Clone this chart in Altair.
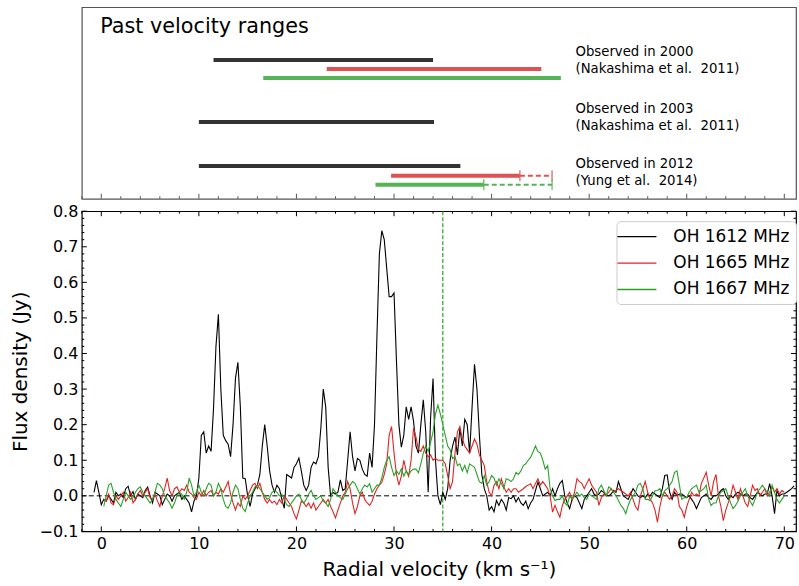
import altair as alt
import numpy as np
import pandas as pd

FONT = "DejaVu Sans"

# ---------------------------------------------------------------- data
series_names = ["OH 1612 MHz", "OH 1665 MHz", "OH 1667 MHz"]

STEP = 0.25          # channel spacing (km/s)
black_start = -0.75
red_start = 0.25
green_start = 0.25

black_flux = [
    0.01, 0.043, 0.01,
    -0.025, -0.01, -0.015, 0.0,   -0.01, -0.02, 0.01, 0.0,   0.005, -0.005, 0.02, 0.027,
    0.0, 0.012, -0.01, 0.005,     0.0, -0.005, 0.015, 0.025,  0.0, -0.02, 0.01, 0.005,
    0.0, -0.025, -0.01, 0.005,    0.0, -0.015, 0.0, 0.005,    0.01, -0.01, 0.0, -0.01,
    -0.02, -0.045, -0.015, 0.0,   0.05, 0.17, 0.18, 0.12,     0.14, 0.125, 0.245, 0.42,
    0.51, 0.3, 0.17, 0.155,       0.145, 0.11, 0.2, 0.33,     0.375, 0.25, 0.05, 0.048,
    0.0, -0.03, 0.005, 0.02,      0.03, 0.06, 0.14, 0.2,      0.14, 0.07, 0.03, 0.01,
    0.03, 0.02, -0.01, -0.035,    0.06, 0.055, 0.05, 0.08,    0.09, 0.106, 0.07, 0.03,
    0.015, 0.03, 0.08, 0.095,     0.09, 0.11, 0.19, 0.3,      0.25, 0.08, 0.0, 0.01,
    0.005, 0.01, 0.045, 0.015,    0.02, 0.1, 0.18, 0.11,      0.07, 0.105, 0.1, 0.075,
    0.06, 0.055, 0.12, 0.08,      0.2, 0.45, 0.68, 0.745,     0.72, 0.64, 0.56, 0.56,
    0.57, 0.38, 0.2, 0.137,       0.17, 0.25, 0.215, 0.25,    0.21, 0.14, 0.12, 0.2,
    0.27, 0.18, 0.01, 0.22,       0.33, 0.1, 0.0, -0.025,     0.01, -0.01, 0.02, 0.1,
    0.14, 0.165, 0.115, 0.19,     0.14, 0.215, 0.2, 0.12,     0.25, 0.37, 0.3, 0.17,
    0.06, 0.02, 0.0, -0.04,       -0.03, -0.045, -0.013, -0.027,  -0.01, -0.02, -0.04, -0.005,
    -0.008, 0.0, -0.017, -0.005,  -0.02, -0.027, -0.015, -0.036,  -0.02, -0.01, 0.015, 0.039,
    0.02, 0.0, 0.005, 0.01,       0.0, 0.02, 0.0, 0.02,       0.035, 0.043, 0.0, -0.02,
    -0.036, -0.01, 0.0, -0.005,   -0.02, -0.036, -0.01, 0.0,  0.01, 0.02, 0.005, 0.0,
    0.005, 0.015, 0.01, 0.0,      0.0, 0.005, 0.015, 0.01,    0.04, 0.02, 0.0, -0.005,
    -0.01, 0.005, 0.02, 0.01,     0.0, -0.005, 0.0, -0.005,   0.005, 0.0, 0.01, 0.005,
    0.0, -0.005, 0.02, 0.057,     0.059, 0.01, -0.01, 0.01,   0.0, 0.005, 0.005, 0.0,
    -0.005, 0.0, -0.01, -0.02,    -0.036, -0.02, -0.005, 0.0,  0.005, -0.005, -0.01, 0.0,
    0.0, 0.005, 0.015, 0.02,      0.0, -0.01, 0.0, -0.005,    0.005, 0.01, 0.005, 0.0,
    0.005, 0.005, -0.005, -0.01,  0.0, 0.01, 0.005, 0.0,      0.005, 0.005, 0.034, 0.0,
    -0.05, 0.015, 0.0, 0.005,     0.005, 0.01, 0.015, 0.02,
    0.028,
]

red_flux = [
    -0.01, -0.015, 0.005,
    -0.02, -0.025, 0.0, -0.01,    0.0, 0.01, -0.015, -0.005,  0.01, -0.02, -0.01, 0.005,
    0.015, 0.0, 0.01, 0.02,       -0.005, -0.01, 0.005, -0.015,  -0.03, 0.0, 0.02, 0.05,
    0.015, 0.0, 0.02, 0.025,      0.01, 0.02, 0.015, 0.03,    0.01, 0.005, -0.005, -0.01,
    0.01, 0.0, 0.015, 0.0,        0.01, 0.015, 0.0, 0.01,     0.005, 0.02, 0.01, 0.025,
    0.04, 0.005, -0.02, -0.04,    -0.02, -0.03, 0.0, -0.01,   0.0, 0.015, 0.03, 0.035,
    0.02, 0.035, 0.01, -0.01,     -0.02, -0.01, -0.02, -0.015,  -0.025, -0.01, -0.02, 0.0,
    -0.01, -0.02, -0.03, -0.05,   -0.065, -0.04, -0.015, -0.02,  -0.03, -0.02, -0.035, -0.02,
    -0.04, -0.03, -0.02, -0.01,   -0.02, -0.01, -0.03, -0.045,  -0.062, -0.04, -0.02, 0.0,
    0.01, 0.04, 0.02, -0.02,      -0.05, -0.03, 0.0, 0.01,    -0.01, -0.02, -0.027, -0.015,
    0.005, 0.02, 0.03, 0.038,     0.06, 0.09, 0.17, 0.195,    0.12, 0.06, 0.03, 0.055,
    0.1, 0.07, 0.055, 0.1,        0.19, 0.165, 0.13, 0.125,   0.14, 0.12, 0.11, 0.115,
    0.1, 0.105, 0.1, 0.1,         0.1, 0.09, 0.057, 0.02,     0.04, 0.12, 0.18, 0.195,
    0.16, 0.14, 0.13, 0.12,       0.14, 0.16, 0.145, 0.115,   0.1, 0.085, 0.04, 0.01,
    0.0, 0.03, 0.04, 0.02,        0.048, 0.025, 0.01, 0.02,   0.01, 0.02, 0.02, 0.01,
    0.015, 0.02, 0.026, 0.03,     0.034, 0.02, 0.035, 0.048,  0.03, 0.04, 0.03, 0.02,
    0.0, -0.046, -0.027, -0.045,  -0.06, -0.027, -0.01, 0.0,  0.01, -0.013, 0.01, 0.048,
    0.04, 0.035, 0.02, 0.035,     0.048, 0.03, 0.02, 0.01,    -0.027, -0.005, 0.005, 0.0,
    0.01, 0.02, 0.01, 0.015,      0.02, 0.015, 0.01, 0.005,   0.0, 0.01, -0.01, -0.03,
    -0.04, 0.0, 0.02, 0.04,       0.01, -0.01, -0.02, -0.04,  -0.074, -0.03, 0.0, 0.01,
    0.0, -0.01, 0.0, 0.02,        0.01, -0.03, -0.04, -0.06,  -0.03, -0.01, 0.01, 0.0,
    0.005, 0.0, 0.035, 0.05,      0.066, 0.03, 0.0, 0.04,     0.06, 0.0, -0.03, -0.07,
    -0.04, -0.02, 0.0, 0.03,      0.01, -0.01, 0.02, 0.0,     -0.02, -0.03, 0.0, 0.03,
    0.015, 0.02, 0.0, 0.01,       0.02, 0.0, 0.01, 0.025,     0.01, 0.02, 0.005, 0.015,
    0.01,
]

green_flux = [
    -0.03, 0.0, 0.03,
    0.035, 0.01, -0.01, -0.02,    -0.03, -0.01, 0.01, 0.0,    -0.01, -0.005, 0.01, 0.02,
    0.025, 0.01, 0.0, -0.01,      -0.02, -0.01, 0.01, 0.035,  0.03, 0.02, 0.0, -0.01,
    -0.02, -0.035, -0.02, 0.0,    0.01, 0.005, -0.01, 0.01,   0.05, 0.03, 0.0, 0.01,
    0.03, 0.01, 0.0, 0.02,        0.035, 0.03, 0.0, 0.01,     0.035, 0.02, -0.01, -0.03,
    -0.035, -0.02, 0.01, 0.03,    0.02, -0.01, -0.035, -0.044,  -0.02, 0.0, 0.01, 0.025,
    0.03, 0.02, 0.01, 0.0,        -0.01, -0.005, 0.01, 0.015,  0.01, 0.0, 0.005, -0.01,
    -0.025, -0.03, -0.02, -0.01,  0.0, 0.005, -0.01, -0.02,   -0.01, 0.005, 0.015, 0.0,
    -0.01, -0.005, 0.0, -0.015,   -0.02, -0.03, -0.01, 0.02,  0.01, 0.0, -0.005, -0.01,
    0.005, 0.02, 0.03, 0.04,      0.035, 0.02, 0.005, 0.02,   0.03, 0.025, 0.034, 0.01,
    0.02, 0.03, 0.03, 0.05,       0.08, 0.1, 0.11, 0.08,      0.057, 0.07, 0.06, 0.076,
    0.055, 0.07, 0.06, 0.07,      0.075, 0.075, 0.065, 0.09,  0.12, 0.14, 0.125, 0.15,
    0.18, 0.23, 0.255, 0.23,      0.2, 0.17, 0.14, 0.13,      0.105, 0.11, 0.085, 0.09,
    0.07, 0.085, 0.065, 0.09,     0.085, 0.08, 0.06, 0.04,    0.035, 0.057, 0.03, 0.04,
    0.057, 0.05, 0.03, 0.048,     0.035, 0.02, 0.048, 0.045,  0.04, 0.048, 0.066, 0.06,
    0.07, 0.085, 0.09, 0.1,       0.108, 0.124, 0.14, 0.124,  0.12, 0.1, 0.075, 0.085,
    0.02, 0.0, -0.013, -0.01,     -0.01, 0.0, -0.02, -0.027,  0.0, -0.01, 0.0, 0.01,
    0.0, 0.005, -0.005, -0.01,    0.005, 0.0, -0.005, -0.01,  0.02, 0.03, 0.015, 0.0,
    0.025, 0.02, 0.01, 0.0,       -0.013, -0.027, -0.035, -0.05,  -0.027, -0.01, 0.0, 0.01,
    0.03, 0.035, 0.02, -0.01,     -0.01, -0.013, 0.0, 0.014,  0.015, 0.02, 0.0, 0.015,
    0.02, 0.03, 0.04, 0.066,      0.07, 0.03, -0.01, -0.005,  -0.005, 0.01, 0.02, 0.025,
    0.03, 0.01, 0.015, 0.02,      0.03, -0.01, -0.027, -0.02,  -0.02, 0.0, 0.01, 0.015,
    0.02, 0.0, -0.02, -0.036,     -0.027, -0.015, 0.0, 0.01,  0.02, 0.0, -0.015, -0.027,
    -0.01, 0.01, 0.02, 0.03,      0.02, 0.01, 0.0, 0.03,      0.01, -0.01, -0.02, -0.01,
    0.0,
]

# past velocity ranges (km/s)
range_epoch = ["2000", "2000", "2000", "2003", "2012", "2012", "2012"]
range_series = ["OH 1612 MHz", "OH 1665 MHz", "OH 1667 MHz", "OH 1612 MHz",
                "OH 1612 MHz", "OH 1665 MHz", "OH 1667 MHz"]
range_lo = [11.5, 23.1, 16.6, 10.0, 10.0, 29.7, 28.1]
range_hi = [34.0, 45.1, 47.1, 34.1, 36.8, 42.9, 39.2]

# 2012 upper-limit extensions
limit_series = ["OH 1665 MHz", "OH 1667 MHz"]
limit_lo = [42.9, 39.2]
limit_hi = [46.2, 46.2]

epoch_notes = ["Observed in 2000", "(Nakashima et al.\u00a0 2011)",
               "Observed in 2003", "(Nakashima et al.\u00a0 2011)",
               "Observed in 2012", "(Yung et al.\u00a0 2014)"]

ref_velocity = [35.0]
x_tick_values = [0, 10, 20, 30, 40, 50, 60, 70]
y_tick_values = [-0.1, 0.0, 0.1, 0.2, 0.3, 0.4, 0.5, 0.6, 0.7, 0.8]

# ---------------------------------------------------------------- layout / style
W, H_TOP, H_BOT = 716, 192, 321
spec_colors = ["#000000", "#e02424", "#2ca02c"]
range_colors = ["#333333", "#de5252", "#56b356"]

ROW = {("2000", "OH 1612 MHz"): 13.9, ("2000", "OH 1665 MHz"): 12.9,
       ("2000", "OH 1667 MHz"): 11.9, ("2003", "OH 1612 MHz"): 7.0,
       ("2012", "OH 1612 MHz"): 2.1, ("2012", "OH 1665 MHz"): 1.0,
       ("2012", "OH 1667 MHz"): 0.0}
NOTE_ROW = [14.78, 12.89, 8.44, 6.56, 2.33, 0.44]
NOTE_X = 48.6

x_scale = alt.Scale(domain=[-2, 71.2], nice=False, zero=False)
y_scale = alt.Scale(domain=[-0.1, 0.8], nice=False, zero=False)
row_scale = alt.Scale(domain=[-1.56, 19.78], nice=False, zero=False)
spec_color = alt.Scale(domain=series_names, range=spec_colors)
rng_color = alt.Scale(domain=series_names, range=range_colors)


def spectrum(name, start, flux):
    v = start + STEP * np.arange(len(flux))
    return pd.DataFrame({"series": name, "v": v, "flux": flux})


spec = pd.concat([spectrum(series_names[0], black_start, black_flux),
                  spectrum(series_names[1], red_start, red_flux),
                  spectrum(series_names[2], green_start, green_flux)],
                 ignore_index=True)

rng = pd.DataFrame({"epoch": range_epoch, "series": range_series,
                    "lo": range_lo, "hi": range_hi})
rng["row"] = [ROW[(e, s)] for e, s in zip(range_epoch, range_series)]

lim = pd.DataFrame({"series": limit_series, "lo": limit_lo, "hi": limit_hi})
lim["row"] = [ROW[("2012", s)] for s in limit_series]
caps = pd.concat([lim[["series", "row"]].assign(v=lim["lo"]),
                  lim[["series", "row"]].assign(v=lim["hi"])], ignore_index=True)

notes = pd.DataFrame({"text": epoch_notes, "row": NOTE_ROW, "v": NOTE_X})

minor_x = [t for t in range(-2, 72, 2) if t % 10 != 0]
minor_y = [round(-0.1 + 0.02 * i, 2) for i in range(46)]
minor_y = [t for t in minor_y if abs(round(t * 10) - t * 10) > 1e-6]
xt_major = pd.DataFrame({"v": x_tick_values})
xt_minor = pd.DataFrame({"v": minor_x})
yt_major = pd.DataFrame({"f": y_tick_values})
yt_minor = pd.DataFrame({"f": minor_y})

MAJ, MIN = 5, 2.5

# ---------------------------------------------------------------- top panel
X_top = alt.X("lo:Q", scale=x_scale, axis=None)
Y_row = alt.Y("row:Q", scale=row_scale, axis=None)

bars = alt.Chart(rng).mark_rule(strokeWidth=4).encode(
    x=X_top, x2="hi:Q", y=Y_row,
    color=alt.Color("series:N", scale=rng_color, legend=None))

dashes = alt.Chart(lim).mark_rule(strokeWidth=2, strokeDash=[5, 3]).encode(
    x=X_top, x2="hi:Q", y=Y_row,
    color=alt.Color("series:N", scale=rng_color, legend=None))

cap_marks = alt.Chart(caps).mark_tick(orient="vertical", size=11, thickness=1.6).encode(
    x=alt.X("v:Q", scale=x_scale, axis=None), y=Y_row,
    color=alt.Color("series:N", scale=rng_color, legend=None))

note_marks = alt.Chart(notes).mark_text(
    align="left", baseline="middle", font=FONT, fontSize=13.3, color="black").encode(
    x=alt.X("v:Q", scale=x_scale, axis=None), y=Y_row, text="text:N")

title_mark = alt.Chart(pd.DataFrame({"t": ["Past velocity ranges"]})).mark_text(
    align="left", baseline="alphabetic", font=FONT, fontSize=20.8, color="black").encode(
    x=alt.value(18.5), y=alt.value(26), text="t:N")

top_ticks_major = alt.Chart(xt_major).mark_rule(color="#555555", strokeWidth=1).encode(
    x=alt.X("v:Q", scale=x_scale, axis=None),
    y=alt.value(H_TOP), y2=alt.value(H_TOP - MAJ))
top_ticks_minor = alt.Chart(xt_minor).mark_rule(color="#555555", strokeWidth=1).encode(
    x=alt.X("v:Q", scale=x_scale, axis=None),
    y=alt.value(H_TOP), y2=alt.value(H_TOP - MIN))

top = alt.layer(bars, dashes, cap_marks, note_marks, title_mark,
                top_ticks_major, top_ticks_minor).properties(
    width=W, height=H_TOP,
    view=alt.ViewBackground(stroke="#555555", strokeWidth=1.2))

# ---------------------------------------------------------------- bottom panel
legend = alt.Legend(title=None, orient="none", legendX=536, legendY=10,
                    symbolType="M-2.3,0H2.3", symbolSize=289, symbolStrokeWidth=1.3,
                    symbolOffset=5,
                    labelFont=FONT, labelFontSize=17, labelColor="black",
                    labelOffset=27, rowPadding=8.5, padding=6,
                    fillColor="white", strokeColor="#cccccc", cornerRadius=4)

x_axis = alt.Axis(title="Radial velocity (km s\u207b\u00b9)", values=x_tick_values,
                  format="d", ticks=False, domain=False, grid=False,
                  labelFontSize=16, labelPadding=4, titleFontSize=20, titlePadding=8,
                  labelFont=FONT, titleFont=FONT, titleFontWeight="normal",
                  labelColor="black", titleColor="black")
y_axis = alt.Axis(title="Flux density (Jy)", values=y_tick_values,
                  format=".1f", ticks=False, domain=False, grid=False,
                  labelFontSize=16, labelPadding=4, titleFontSize=20, titlePadding=9,
                  labelFont=FONT, titleFont=FONT, titleFontWeight="normal",
                  labelColor="black", titleColor="black")

XB = alt.X("v:Q", scale=x_scale, axis=x_axis)
YB = alt.Y("f:Q", scale=y_scale, axis=y_axis)

zero_line = alt.Chart(pd.DataFrame({"f": [0.0]})).mark_rule(
    color="black", strokeWidth=1, strokeDash=[5, 3]).encode(y=YB)

ref_line = alt.Chart(pd.DataFrame({"v": ref_velocity})).mark_rule(
    color="#2ca02c", strokeWidth=1.2, strokeDash=[4, 2]).encode(x=XB)


def spec_layer(name):
    return alt.Chart(spec).transform_filter(
        alt.datum.series == name).mark_line(strokeWidth=1.1, clip=True).encode(
        x=XB,
        y=alt.Y("flux:Q", scale=y_scale, axis=y_axis),
        color=alt.Color("series:N", scale=spec_color, legend=legend),
        order="v:Q")


bx_major = alt.Chart(xt_major).mark_rule(color="black").encode(
    x=XB, y=alt.value(H_BOT), y2=alt.value(H_BOT - MAJ))
bx_minor = alt.Chart(xt_minor).mark_rule(color="black").encode(
    x=XB, y=alt.value(H_BOT), y2=alt.value(H_BOT - MIN))
tx_major = alt.Chart(xt_major).mark_rule(color="black").encode(
    x=XB, y=alt.value(0), y2=alt.value(MAJ))
tx_minor = alt.Chart(xt_minor).mark_rule(color="black").encode(
    x=XB, y=alt.value(0), y2=alt.value(MIN))
ly_major = alt.Chart(yt_major).mark_rule(color="black").encode(
    y=YB, x=alt.value(0), x2=alt.value(MAJ))
ly_minor = alt.Chart(yt_minor).mark_rule(color="black").encode(
    y=YB, x=alt.value(0), x2=alt.value(MIN))
ry_major = alt.Chart(yt_major).mark_rule(color="black").encode(
    y=YB, x=alt.value(W - MAJ), x2=alt.value(W))
ry_minor = alt.Chart(yt_minor).mark_rule(color="black").encode(
    y=YB, x=alt.value(W - MIN), x2=alt.value(W))

bottom = alt.layer(
    zero_line, ref_line,
    spec_layer(series_names[0]),
    spec_layer(series_names[1]),
    spec_layer(series_names[2]),
    bx_major, bx_minor, tx_major, tx_minor, ly_major, ly_minor, ry_major, ry_minor,
).properties(width=W, height=H_BOT,
             view=alt.ViewBackground(stroke="black", strokeWidth=1.2))

chart = alt.vconcat(top, bottom, spacing=1.5).resolve_scale(
    color="independent", x="independent", y="independent"
).resolve_legend(color="independent").properties(
    padding={"left": 9, "top": 5.5, "right": 1, "bottom": 1},
    background="white",
).configure(font=FONT)

chart.save("out.html", embed_options={"renderer": "svg", "actions": False})
